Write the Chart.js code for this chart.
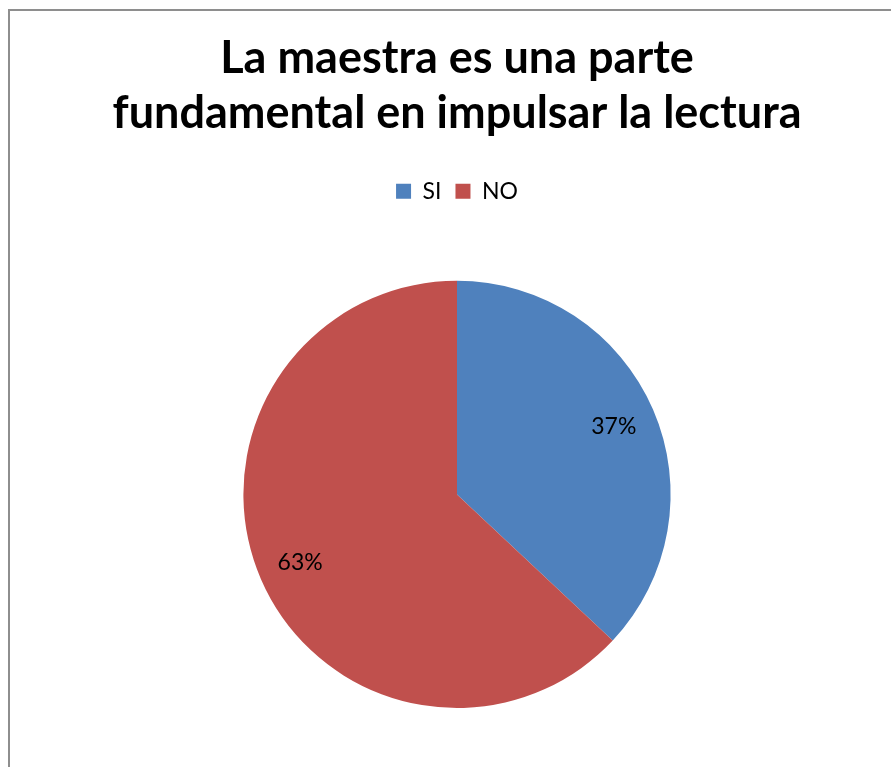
<!DOCTYPE html>
<html>
<head>
<meta charset="utf-8">
<script src="https://cdn.jsdelivr.net/npm/chart.js@4"></script>
<style>
    html, body { margin: 0; padding: 0; background: #fff; }
    .frame {
        position: absolute; left: 8px; top: 9px; width: 1000px; height: 1000px;
        border-left: 2px solid #8e8e8e; border-top: 2px solid #8e8e8e;
    }
    .wrap { position: absolute; left: 0; top: 0; width: 891px; height: 767px; }
</style>
</head>
<body>
<div class="frame"></div>
<div class="wrap"><canvas id="pieChart" width="891" height="767"></canvas></div>
<script>
const titleLines = ['La maestra es una parte', 'fundamental en impulsar la lectura'];
const categories = ['SI', 'NO'];
const percentValues = [37, 63];
const sliceColors = ['#4F81BD', '#C0504D'];

// draws the % text inside each slice
const sliceLabels = {
    id: 'sliceLabels',
    afterDatasetsDraw(chart) {
        const ctx = chart.ctx;
        const meta = chart.getDatasetMeta(0);
        ctx.save();
        ctx.font = '23px Lato';
        ctx.fillStyle = '#000';
        ctx.textAlign = 'center';
        ctx.textBaseline = 'middle';
        meta.data.forEach((arc, i) => {
            const p = arc.getProps(['x', 'y', 'startAngle', 'endAngle', 'outerRadius'], true);
            const mid = (p.startAngle + p.endAngle) / 2;
            const r = p.outerRadius * 0.8;
            ctx.fillText(percentValues[i] + '%', p.x + Math.cos(mid) * r, p.y + Math.sin(mid) * r);
        });
        ctx.restore();
    }
};

// extra gap under the legend so the pie starts lower
const legendGap = {
    id: 'legendGap',
    beforeInit(chart) {
        const fit = chart.legend.fit;
        chart.legend.fit = function () {
            fit.bind(chart.legend)();
            this.height += 68;
        };
    }
};

new Chart(document.getElementById('pieChart'), {
    type: 'pie',
    data: {
        labels: categories,
        datasets: [{
            data: percentValues,
            backgroundColor: sliceColors,
            borderWidth: 0
        }]
    },
    options: {
        responsive: false,
        animation: false,
        layout: { padding: { left: 23, right: 0, top: 0, bottom: 59 } },
        plugins: {
            title: {
                display: true,
                text: titleLines,
                color: '#000',
                font: { family: 'Lato', size: 45, weight: 'bold', lineHeight: 1.22 },
                padding: { top: 31, bottom: 25 }
            },
            legend: {
                position: 'top',
                labels: {
                    color: '#000',
                    font: { family: 'Lato', size: 23 },
                    boxWidth: 15,
                    boxHeight: 15,
                    padding: 14
                }
            },
            tooltip: { enabled: false }
        }
    },
    plugins: [sliceLabels, legendGap]
});
</script>
</body>
</html>
